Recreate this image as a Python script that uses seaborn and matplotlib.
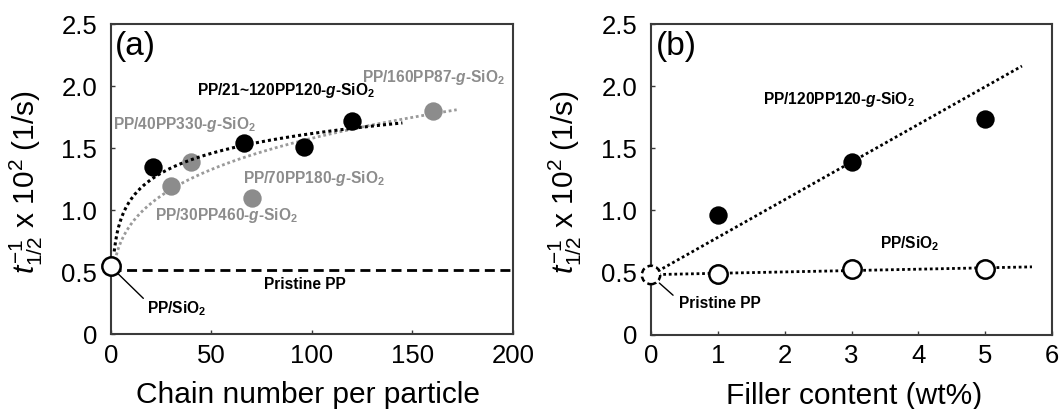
import numpy as np
import pandas as pd
import matplotlib
matplotlib.use("Agg")
import matplotlib.pyplot as plt
import seaborn as sns

# ---- panel (a): crystallization rate vs. grafted chain number ----
chains_black = [21, 66, 96, 120]           # PP/21~120PP120-g-SiO2
rate_black = [1.35, 1.54, 1.51, 1.72]
chains_gray = [30, 40, 70, 160]            # PP/xxPPyyy-g-SiO2 series
rate_gray = [1.20, 1.39, 1.10, 1.80]
chains_plain = [0]                         # PP/SiO2
rate_plain = [0.55]
pristine_rate_a = 0.52                     # pristine PP reference level

# trend curves: black y = a + b*ln(x), gray y = c*x**p
black_trend = [0.56, 0.23, 1.6, 145]       # a, b, x_start, x_end
gray_trend = [0.50, 0.25, 2.0, 172]        # c, p, x_start, x_end

# ---- panel (b): crystallization rate vs. filler content ----
filler = [1, 3, 5]
rate_grafted = [0.96, 1.39, 1.74]          # PP/120PP120-g-SiO2
rate_silica = [0.49, 0.53, 0.53]           # PP/SiO2
pristine_filler = [0]
pristine_rate_b = [0.48]

xticks_a = [0, 50, 100, 150, 200]
xticks_b = [0, 1, 2, 3, 4, 5, 6]
yticks = [0, 0.5, 1.0, 1.5, 2.0, 2.5]
ytick_labels = ["0", "0.5", "1.0", "1.5", "2.0", "2.5"]

sns.set_theme(style="ticks")
plt.rcParams.update({
    "font.family": ["Liberation Sans", "DejaVu Sans"],
    "text.color": "black",
    "axes.labelcolor": "black",
    "mathtext.fontset": "custom",
    "mathtext.rm": "Liberation Sans",
    "mathtext.it": "Liberation Sans:italic",
    "mathtext.bf": "Liberation Sans:bold",
    "mathtext.bfit": "Liberation Sans:italic:bold",
})

GRAY = "#8c8c8c"
GRAY_LINE = "#9a9a9a"
FRAME = "#3a3a3a"
DOT = (0, (1, 1))
ANN = 11.2

fig = plt.figure(figsize=(10.62, 4.09), dpi=100)
ax1 = fig.add_axes([0.1045, 0.1826, 0.3785, 0.758])
ax2 = fig.add_axes([0.613, 0.182, 0.3776, 0.7586])

YLABEL = r"$t_{1/2}^{-1}$ x 10$^{2}$ (1/s)"


def style_axes(ax, xticks, xlim):
    ax.set_xlim(*xlim)
    ax.set_ylim(0, 2.5)
    ax.set_xticks(xticks)
    ax.set_yticks(yticks)
    ax.set_yticklabels(ytick_labels)
    ax.tick_params(direction="in", length=3, width=1, colors=FRAME,
                   labelcolor="black", labelsize=18.5)
    ax.tick_params(axis="y", pad=10)
    ax.tick_params(axis="x", pad=7)
    for sp in ax.spines.values():
        sp.set_visible(True)
        sp.set_color(FRAME)
        sp.set_linewidth(1.5)
    ax.set_ylabel(YLABEL, fontsize=21.5, color="black")


def bold_label(name):
    return name.replace("-g-", r"-$\mathbfit{g}$-").replace("SiO2", r"SiO$_\mathbf{2}$")


# ---------------- panel (a) ----------------
style_axes(ax1, xticks_a, (0, 200))

xs = np.linspace(gray_trend[2], gray_trend[3], 200)
sns.lineplot(x=xs, y=gray_trend[0] * xs ** gray_trend[1], ax=ax1, color=GRAY_LINE,
             lw=2.0, linestyle=DOT, zorder=2)
sns.scatterplot(x=chains_gray, y=rate_gray, ax=ax1, color=GRAY, s=175,
                edgecolor=GRAY, linewidth=0, zorder=3)

xb = np.linspace(black_trend[2], black_trend[3], 200)
sns.lineplot(x=xb, y=black_trend[0] + black_trend[1] * np.log(xb), ax=ax1,
             color="black", lw=2.2, linestyle=DOT, zorder=4)
sns.scatterplot(x=chains_black, y=rate_black, ax=ax1, color="black", s=175,
                edgecolor="black", linewidth=0, zorder=5)

ax1.axhline(pristine_rate_a, color="black", lw=2.0, dashes=(3.6, 2.0), zorder=2)
sns.scatterplot(x=chains_plain, y=rate_plain, ax=ax1, color="white", s=175,
                edgecolor="black", linewidth=1.8, zorder=6, clip_on=False)

ax1.text(2, 2.32, "(a)", fontsize=24, ha="left", va="center")
ax1.text(42.6, 1.97, bold_label("PP/21~120PP120-g-SiO2"), fontsize=ANN,
         fontweight="bold", color="black", ha="left", va="center")
ax1.text(124.7, 2.07, bold_label("PP/160PP87-g-SiO2"), fontsize=ANN,
         fontweight="bold", color=GRAY, ha="left", va="center")
ax1.text(1.1, 1.69, bold_label("PP/40PP330-g-SiO2"), fontsize=ANN,
         fontweight="bold", color=GRAY, ha="left", va="center")
ax1.text(65.8, 1.26, bold_label("PP/70PP180-g-SiO2"), fontsize=ANN,
         fontweight="bold", color=GRAY, ha="left", va="center")
ax1.text(21.9, 0.96, bold_label("PP/30PP460-g-SiO2"), fontsize=ANN,
         fontweight="bold", color=GRAY, ha="left", va="center")
ax1.text(75.9, 0.40, "Pristine PP", fontsize=ANN, fontweight="bold",
         ha="left", va="center")
ax1.text(17.8, 0.21, bold_label("PP/SiO2"), fontsize=ANN, fontweight="bold",
         ha="left", va="center")
ax1.plot([2.8, 16.1], [0.50, 0.29], color="black", lw=1.0, zorder=5)

ax1.set_xlabel("Chain number per particle", fontsize=21.5, color="black")
ax1.xaxis.set_label_coords(0.489, -0.152)
ax1.yaxis.set_label_coords(-0.165, 0.49)

# ---------------- panel (b) ----------------
style_axes(ax2, xticks_b, (0, 6))

# grafted-silica trend: line through the pristine and 3 wt% points
slope_g = (rate_grafted[1] - pristine_rate_b[0]) / (filler[1] - pristine_filler[0])
xg = np.linspace(0.1, 5.55, 100)
sns.lineplot(x=xg, y=pristine_rate_b[0] + slope_g * xg, ax=ax2, color="black",
             lw=2.0, linestyle=DOT, zorder=2)

# bare-silica trend: least-squares line
xs_all = np.array(pristine_filler + filler, dtype=float)
ys_all = np.array(pristine_rate_b + rate_silica)
k, b0 = np.polyfit(xs_all, ys_all, 1)
xl = np.linspace(0.1, 5.7, 100)
sns.lineplot(x=xl, y=b0 + k * xl, ax=ax2, color="black", lw=2.0,
             linestyle=DOT, zorder=2)

sns.scatterplot(x=filler, y=rate_grafted, ax=ax2, color="black", s=175,
                edgecolor="black", linewidth=0, zorder=5)
sns.scatterplot(x=filler, y=rate_silica, ax=ax2, color="white", s=175,
                edgecolor="black", linewidth=1.8, zorder=5)
ax2.scatter(pristine_filler, pristine_rate_b, s=175, facecolors="white",
            edgecolors="black", linewidths=1.8, linestyles=(0, (2.2, 1.4)),
            zorder=6, clip_on=False)

ax2.text(0.07, 2.32, "(b)", fontsize=24, ha="left", va="center")
ax2.text(1.675, 1.895, bold_label("PP/120PP120-g-SiO2"), fontsize=ANN,
         fontweight="bold", ha="left", va="center")
ax2.text(3.43, 0.73, bold_label("PP/SiO2"), fontsize=ANN, fontweight="bold",
         ha="left", va="center")
ax2.text(0.42, 0.25, "Pristine PP", fontsize=ANN, fontweight="bold",
         ha="left", va="center")
ax2.plot([0.125, 0.33], [0.415, 0.317], color="black", lw=1.0, zorder=5)

ax2.set_xlabel("Filler content (wt%)", fontsize=21.5, color="black")
ax2.xaxis.set_label_coords(0.506, -0.152)
ax2.yaxis.set_label_coords(-0.168, 0.49)

fig.savefig("out.png", dpi=100)
